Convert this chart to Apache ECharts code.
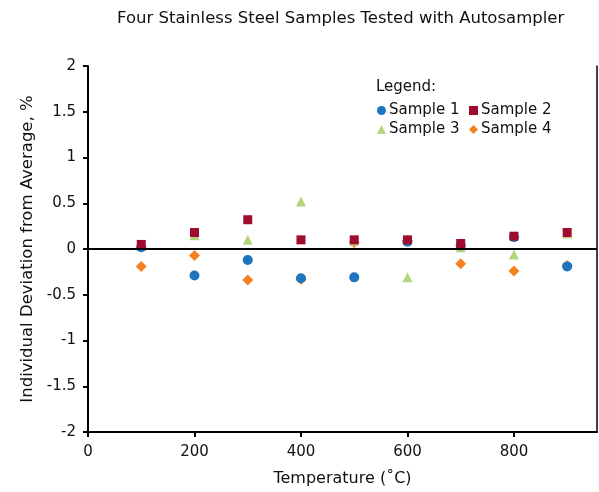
<!DOCTYPE html>
<html><head><meta charset="utf-8">
<script src="https://cdn.jsdelivr.net/npm/echarts@6/dist/echarts.min.js"></script>
<style>html,body{margin:0;padding:0;background:#fff}#c{width:599px;height:492px}</style>
</head><body><div id="c"></div>
<script>
const temps = [100, 200, 300, 400, 500, 600, 700, 800, 900];
const sample1 = [0.02, -0.29, -0.12, -0.32, -0.31, 0.08, 0.04, 0.13, -0.19];
const sample2 = [0.05, 0.18, 0.32, 0.10, 0.10, 0.10, 0.06, 0.14, 0.18];
const sample3 = [0.03, 0.15, 0.10, 0.52, 0.09, -0.31, 0.02, -0.06, 0.17];
const sample4 = [-0.19, -0.07, -0.34, -0.33, 0.07, 0.09, -0.16, -0.24, -0.18];
const seriesNames = ['Sample 1', 'Sample 2', 'Sample 3', 'Sample 4'];

const FONT = 'DejaVu Sans';
const pair = (vals) => temps.map((t, i) => [t, vals[i]]);
const chart = echarts.init(document.getElementById('c'));
chart.setOption({
  animation: false,
  textStyle: { fontFamily: FONT },
  title: {
    text: 'Four Stainless Steel Samples Tested with Autosampler',
    left: 112, top: 5,
    textStyle: { fontFamily: FONT, fontSize: 16.5, fontWeight: 'normal', color: '#111' }
  },
  graphic: [{
    type: 'text', left: 376, top: 80,
    style: { text: 'Legend:', font: '15px ' + FONT, fill: '#111' }
  }],
  legend: [
    { data: ['Sample 1', 'Sample 3'], orient: 'vertical', left: 372, top: 98,
      itemWidth: 9, itemHeight: 9, itemGap: 4,
      textStyle: { fontFamily: FONT, fontSize: 15, color: '#111', lineHeight: 15, padding: [0, 0, 0, -2] } },
    { data: ['Sample 2', 'Sample 4'], orient: 'vertical', left: 464, top: 98,
      itemWidth: 9, itemHeight: 9, itemGap: 4,
      textStyle: { fontFamily: FONT, fontSize: 15, color: '#111', lineHeight: 15, padding: [0, 0, 0, -2] } }
  ],
  grid: { left: 88, right: 2, top: 66, bottom: 58 },
  xAxis: {
    type: 'value', min: 0, max: 956, interval: 200,
    name: 'Temperature (˚C)', nameLocation: 'middle', nameGap: 39,
    nameTextStyle: { fontFamily: FONT, fontSize: 16, color: '#111' },
    axisLine: { onZero: false, lineStyle: { color: '#000', width: 2 } },
    axisTick: { length: 5, lineStyle: { color: '#000', width: 2 } },
    axisLabel: { fontFamily: FONT, fontSize: 15, color: '#111', margin: 13, showMaxLabel: false,
      formatter: v => (v % 200 === 0 ? String(v) : '') },
    splitLine: { show: false }
  },
  yAxis: [{
    type: 'value', min: -2, max: 2, interval: 0.5,
    name: 'Individual Deviation from Average, %', nameLocation: 'middle', nameGap: 46,
    nameTextStyle: { fontFamily: FONT, fontSize: 16.5, color: '#111' },
    axisLine: { show: true, lineStyle: { color: '#000', width: 2 } },
    axisTick: { show: true, length: 5, lineStyle: { color: '#000', width: 2 } },
    axisLabel: { fontFamily: FONT, fontSize: 15, color: '#111', margin: 12 },
    splitLine: { show: false }
  }, {
    type: 'value', min: -2, max: 2, interval: 0.5, position: 'right',
    axisLine: { show: true, lineStyle: { color: '#000', width: 1.5 } },
    axisTick: { show: false }, axisLabel: { show: false }, splitLine: { show: false }
  }],
  series: [
    { name: 'Sample 4', type: 'scatter', symbol: 'diamond', symbolSize: 11,
      itemStyle: { color: '#F58220', opacity: 1 }, data: pair(sample4) },
    { name: 'Sample 3', type: 'scatter', symbol: 'triangle', symbolSize: 10,
      itemStyle: { color: '#B3D57C', opacity: 1 }, data: pair(sample3) },
    { name: 'Sample 1', type: 'scatter', symbol: 'circle', symbolSize: 10,
      itemStyle: { color: '#1F74BE', opacity: 1 }, data: pair(sample1) },
    { name: 'Sample 2', type: 'scatter', symbol: 'rect', symbolSize: 9,
      itemStyle: { color: '#A00C30', opacity: 1 }, data: pair(sample2),
      markLine: { silent: true, symbol: 'none', label: { show: false },
        lineStyle: { color: '#000', width: 2, type: 'solid' }, data: [{ yAxis: 0 }] } }
  ]
});
</script></body></html>
